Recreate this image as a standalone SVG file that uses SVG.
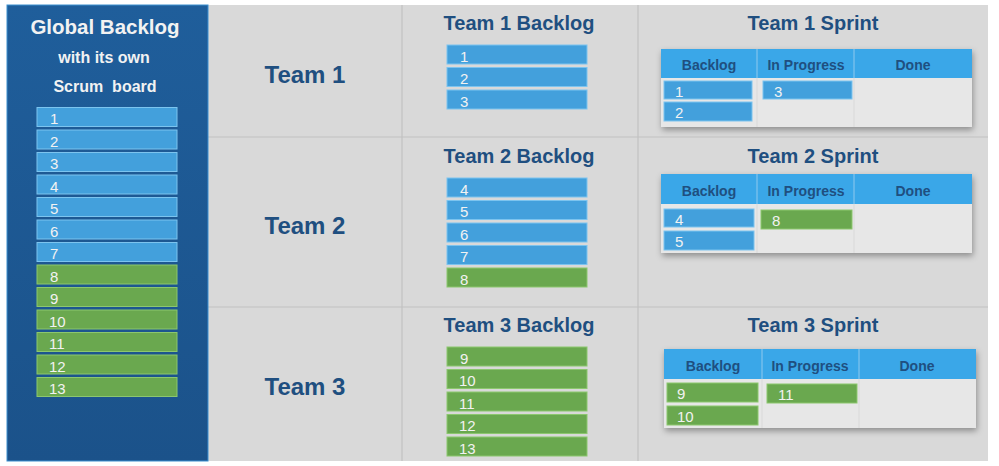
<svg xmlns="http://www.w3.org/2000/svg" width="999" height="466" viewBox="0 0 999 466">
<defs>
<linearGradient id="gb" x1="0" y1="0" x2="0" y2="1">
<stop offset="0" stop-color="#1f5e9b"/>
<stop offset="1" stop-color="#1b528a"/>
</linearGradient>
<filter id="sh" x="-10%" y="-20%" width="125%" height="150%">
<feDropShadow dx="1" dy="3" stdDeviation="3" flood-color="#000" flood-opacity="0.35"/>
</filter>
<style>
text{font-family:"Liberation Sans",Arial,sans-serif}
.wt{fill:#f2f2f2;font-weight:bold;text-anchor:middle}
.tt{fill:#1f4f80;font-weight:bold;text-anchor:middle}
.bl{fill:#43a0dc;stroke:#7cc4ef;stroke-width:1}
.gr{fill:#6aa84f;stroke:#8cc76e;stroke-width:1}
.it{fill:#f2f2f2;font-size:15px}
.hd{fill:#3aa7e8}
.hdt{fill:#1f4f80;font-weight:bold;font-size:14px;text-anchor:middle}
.bd{fill:#e7e7e7}
.dv{stroke:#c2c2c2;stroke-width:1.2}
.cd{stroke:#8fc9ee;stroke-width:1}
.cdb{stroke:#d9d9d9;stroke-width:1}
</style>
</defs>
<rect width="999" height="466" fill="#ffffff"/>
<rect x="208" y="5" width="780" height="456" fill="#d9d9d9"/>
<g id="grid">
<line class="dv" x1="402" y1="5" x2="402" y2="461"/>
<line class="dv" x1="638" y1="5" x2="638" y2="461"/>
<line class="dv" x1="208" y1="137" x2="988" y2="137"/>
<line class="dv" x1="208" y1="307" x2="988" y2="307"/>
</g>
<g id="global-backlog">
<rect x="7" y="5" width="201" height="456" fill="url(#gb)" stroke="#3d8fd0" stroke-width="1"/>
<text class="wt" x="105" y="34" font-size="20.5">Global Backlog</text>
<text class="wt" x="104" y="63" font-size="16">with its own</text>
<text class="wt" x="105" y="92" font-size="16" xml:space="preserve">Scrum  board</text>
<rect class="bl" x="37" y="107.5" width="140" height="19"/><text class="it" x="50" y="124">1</text>
<rect class="bl" x="37" y="130" width="140" height="19"/><text class="it" x="50" y="146.5">2</text>
<rect class="bl" x="37" y="152.5" width="140" height="19"/><text class="it" x="50" y="169">3</text>
<rect class="bl" x="37" y="175" width="140" height="19"/><text class="it" x="50" y="191.5">4</text>
<rect class="bl" x="37" y="197.5" width="140" height="19"/><text class="it" x="50" y="214">5</text>
<rect class="bl" x="37" y="220" width="140" height="19"/><text class="it" x="50" y="236.5">6</text>
<rect class="bl" x="37" y="242.5" width="140" height="19"/><text class="it" x="50" y="259">7</text>
<rect class="gr" x="37" y="265" width="140" height="19"/><text class="it" x="50" y="281.5">8</text>
<rect class="gr" x="37" y="287.5" width="140" height="19"/><text class="it" x="50" y="304">9</text>
<rect class="gr" x="37" y="310" width="140" height="19"/><text class="it" x="49" y="326.5">10</text>
<rect class="gr" x="37" y="332.5" width="140" height="19"/><text class="it" x="49" y="349">11</text>
<rect class="gr" x="37" y="355" width="140" height="19"/><text class="it" x="49" y="371.5">12</text>
<rect class="gr" x="37" y="377.5" width="140" height="19"/><text class="it" x="49" y="394">13</text>
</g>
<g id="team1-label"><text class="tt" x="305" y="83" font-size="24">Team 1</text></g>
<g id="team2-label"><text class="tt" x="305" y="234" font-size="24">Team 2</text></g>
<g id="team3-label"><text class="tt" x="305" y="395" font-size="24">Team 3</text></g>
<g id="team1-backlog">
<text class="tt" x="519" y="30" font-size="20">Team 1 Backlog</text>
<rect class="bl" x="447" y="45" width="140" height="19"/><text class="it" x="460" y="61.5">1</text>
<rect class="bl" x="447" y="67.5" width="140" height="19"/><text class="it" x="460" y="84">2</text>
<rect class="bl" x="447" y="90" width="140" height="19"/><text class="it" x="460" y="106.5">3</text>
</g>
<g id="team2-backlog">
<text class="tt" x="519" y="163" font-size="20">Team 2 Backlog</text>
<rect class="bl" x="447" y="178" width="140" height="19"/><text class="it" x="460" y="194.5">4</text>
<rect class="bl" x="447" y="200.5" width="140" height="19"/><text class="it" x="460" y="217">5</text>
<rect class="bl" x="447" y="223" width="140" height="19"/><text class="it" x="460" y="239.5">6</text>
<rect class="bl" x="447" y="245.5" width="140" height="19"/><text class="it" x="460" y="262">7</text>
<rect class="gr" x="447" y="268" width="140" height="19"/><text class="it" x="460" y="284.5">8</text>
</g>
<g id="team3-backlog">
<text class="tt" x="519" y="332" font-size="20">Team 3 Backlog</text>
<rect class="gr" x="447" y="347" width="140" height="19"/><text class="it" x="460" y="363.5">9</text>
<rect class="gr" x="447" y="369.5" width="140" height="19"/><text class="it" x="459" y="386">10</text>
<rect class="gr" x="447" y="392" width="140" height="19"/><text class="it" x="459" y="408.5">11</text>
<rect class="gr" x="447" y="414.5" width="140" height="19"/><text class="it" x="459" y="431">12</text>
<rect class="gr" x="447" y="437" width="140" height="19"/><text class="it" x="459" y="453.5">13</text>
</g>
<g id="team1-sprint">
<text class="tt" x="813" y="30" font-size="20">Team 1 Sprint</text>
<g filter="url(#sh)"><rect class="bd" x="661" y="49" width="311" height="78"/></g>
<rect class="hd" x="661" y="49" width="311" height="29"/>
<line class="cd" x1="757" y1="49" x2="757" y2="78"/><line class="cd" x1="854" y1="49" x2="854" y2="78"/>
<line class="cdb" x1="757" y1="78" x2="757" y2="127"/><line class="cdb" x1="854" y1="78" x2="854" y2="127"/>
<text class="hdt" x="709" y="70">Backlog</text><text class="hdt" x="806" y="70">In Progress</text><text class="hdt" x="913" y="70">Done</text>
<rect class="bl" x="664" y="81" width="88" height="18"/><text class="it" x="675" y="97">1</text>
<rect class="bl" x="664" y="102" width="88" height="19"/><text class="it" x="675" y="118">2</text>
<rect class="bl" x="763" y="81" width="89" height="18"/><text class="it" x="774" y="97">3</text>
</g>
<g id="team2-sprint">
<text class="tt" x="813" y="163" font-size="20">Team 2 Sprint</text>
<g filter="url(#sh)"><rect class="bd" x="661" y="174" width="311" height="79"/></g>
<rect class="hd" x="661" y="174" width="311" height="30"/>
<line class="cd" x1="757" y1="174" x2="757" y2="204"/><line class="cd" x1="854" y1="174" x2="854" y2="204"/>
<line class="cdb" x1="757" y1="204" x2="757" y2="253"/><line class="cdb" x1="854" y1="204" x2="854" y2="253"/>
<text class="hdt" x="709" y="196">Backlog</text><text class="hdt" x="806" y="196">In Progress</text><text class="hdt" x="913" y="196">Done</text>
<rect class="bl" x="664" y="209" width="90" height="18"/><text class="it" x="675" y="225">4</text>
<rect class="bl" x="664" y="231" width="90" height="19"/><text class="it" x="675" y="247">5</text>
<rect class="gr" x="761" y="210" width="91" height="19"/><text class="it" x="772" y="226">8</text>
</g>
<g id="team3-sprint">
<text class="tt" x="813" y="332" font-size="20">Team 3 Sprint</text>
<g filter="url(#sh)"><rect class="bd" x="664" y="349" width="312" height="79"/></g>
<rect class="hd" x="664" y="349" width="312" height="30"/>
<line class="cd" x1="762" y1="349" x2="762" y2="379"/><line class="cd" x1="859" y1="349" x2="859" y2="379"/>
<line class="cdb" x1="762" y1="379" x2="762" y2="428"/><line class="cdb" x1="859" y1="379" x2="859" y2="428"/>
<text class="hdt" x="713" y="371">Backlog</text><text class="hdt" x="810" y="371">In Progress</text><text class="hdt" x="917" y="371">Done</text>
<rect class="gr" x="667" y="383" width="91" height="19"/><text class="it" x="677" y="399">9</text>
<rect class="gr" x="667" y="406" width="91" height="19"/><text class="it" x="677" y="422">10</text>
<rect class="gr" x="767" y="384" width="90" height="19"/><text class="it" x="778" y="400">11</text>
</g>
</svg>
